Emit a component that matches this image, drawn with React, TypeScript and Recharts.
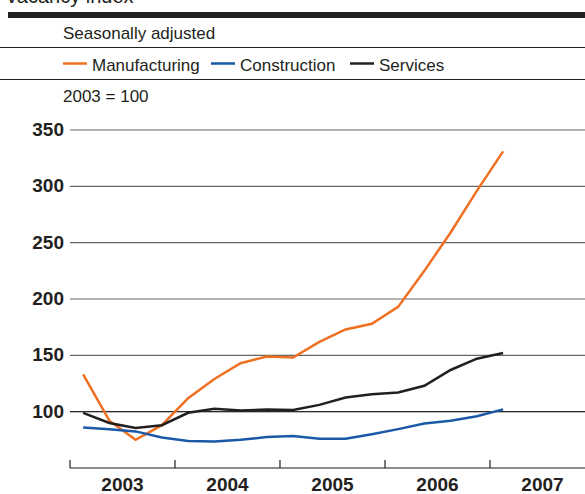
import { LineChart, Line, XAxis, YAxis, CartesianGrid, ReferenceLine } from "recharts";

// Quarterly vacancy index, 2003 = 100
const quarters = [
  "2003 Q1", "2003 Q2", "2003 Q3", "2003 Q4",
  "2004 Q1", "2004 Q2", "2004 Q3", "2004 Q4",
  "2005 Q1", "2005 Q2", "2005 Q3", "2005 Q4",
  "2006 Q1", "2006 Q2", "2006 Q3", "2006 Q4",
  "2007 Q1",
];
const manufacturing = [133, 92, 75, 88, 112, 129, 143, 149, 148, 162, 173, 178, 193, 225, 259, 296, 331];
const construction = [86, 84.5, 82.5, 77, 74, 73.5, 75, 77.5, 78.5, 76, 76, 80, 84.5, 89.5, 92, 96, 102];
const services = [99, 90, 85.5, 88, 99, 102.5, 101, 102, 101.5, 106, 112.5, 115.5, 117, 123, 137, 147, 152];

const yearLabels = ["2003", "2004", "2005", "2006", "2007"];
const yearTicks = [0, 4, 8, 12, 16];
const yTicks = [50, 100, 150, 200, 250, 300, 350];

const seriesNames = ["Manufacturing", "Construction", "Services"];
const seriesKeys = ["manufacturing", "construction", "services"];
const seriesColors = ["#f07022", "#1b59a8", "#231f20"];

const FONT = "'Liberation Sans', Arial, sans-serif";
const INK = "#231f20";
const X_MAX = 19.62; // axis runs a little past the start of 2007
const PLOT_LEFT = 70;
const PLOT_RIGHT = 585;
const HALF_YEAR = ((PLOT_RIGHT - PLOT_LEFT) / X_MAX) * 2;

const data = quarters.map((q, i) => ({
  quarter: q,
  pos: i + 0.5,
  manufacturing: manufacturing[i],
  construction: construction[i],
  services: services[i],
}));

function YTick({ y, payload }: any) {
  if (payload.value === 50) return <g />;
  return (
    <text x={64} y={y + 6} textAnchor="end" fontFamily={FONT} fontWeight="bold" fontSize={19} fill={INK}>
      {payload.value}
    </text>
  );
}

function XTick({ x, y, payload }: any) {
  const idx = yearTicks.indexOf(payload.value);
  return (
    <g>
      <line x1={x} x2={x} y1={y - 8} y2={y} stroke={INK} strokeWidth={1.2} />
      <text x={x + HALF_YEAR} y={y + 23} textAnchor="middle" fontFamily={FONT} fontWeight="bold" fontSize={19} fill={INK}>
        {yearLabels[idx]}
      </text>
      {idx === yearTicks.length - 1 && (
        <text x={x + HALF_YEAR * 3} y={y + 23} textAnchor="middle" fontFamily={FONT} fontWeight="bold" fontSize={19} fill={INK}>
          {yearLabels[idx + 1]}
        </text>
      )}
    </g>
  );
}

function Header() {
  const legendX = [63, 211, 350];
  return (
    <svg width={585} height={110} style={{ position: "absolute", left: 0, top: 0, pointerEvents: "none" }}>
      <text x={5} y={3} fontFamily={FONT} fontSize={20} fill={INK}>Vacancy index</text>
      <rect x={8} y={12} width={577} height={6} fill={INK} />
      <text x={63} y={39} fontFamily={FONT} fontSize={17} fill={INK}>Seasonally adjusted</text>
      <line x1={0} x2={585} y1={47.5} y2={47.5} stroke={INK} strokeWidth={1} />
      {seriesNames.map((name, i) => (
        <g key={name}>
          <line x1={legendX[i]} x2={legendX[i] + 24} y1={63.5} y2={63.5} stroke={seriesColors[i]} strokeWidth={2.5} />
          <text x={legendX[i] + 29} y={71} fontFamily={FONT} fontSize={17} fill={INK}>{name}</text>
        </g>
      ))}
      <line x1={0} x2={585} y1={79.5} y2={79.5} stroke={INK} strokeWidth={1} />
      <text x={63} y={101.5} fontFamily={FONT} fontSize={17} fill={INK}>2003 = 100</text>
    </svg>
  );
}

export default function App() {
  return (
    <div style={{ position: "absolute", left: 0, top: 0, width: 585, height: 494, background: "#fff" }}>
      <LineChart width={585} height={494} data={data} margin={{ top: 130, right: 0, bottom: 0, left: 0 }}>
        <CartesianGrid vertical={false} stroke="#666" strokeWidth={1.2} />
        <ReferenceLine y={100} stroke={INK} strokeWidth={1} />
        <XAxis
          type="number"
          dataKey="pos"
          domain={[0, X_MAX]}
          ticks={yearTicks}
          height={26}
          tickSize={0}
          tickMargin={0}
          tickLine={false}
          axisLine={{ stroke: "#8c8c8c", strokeWidth: 2 }}
          tick={<XTick />}
          allowDataOverflow
        />
        <YAxis
          domain={[50, 350]}
          ticks={yTicks}
          width={70}
          axisLine={false}
          tickLine={false}
          tick={<YTick />}
        />
        {seriesKeys.map((key, i) => (
          <Line
            key={key}
            type="linear"
            dataKey={key}
            name={seriesNames[i]}
            stroke={seriesColors[i]}
            strokeWidth={2.5}
            dot={false}
            isAnimationActive={false}
          />
        ))}
      </LineChart>
      <Header />
    </div>
  );
}
